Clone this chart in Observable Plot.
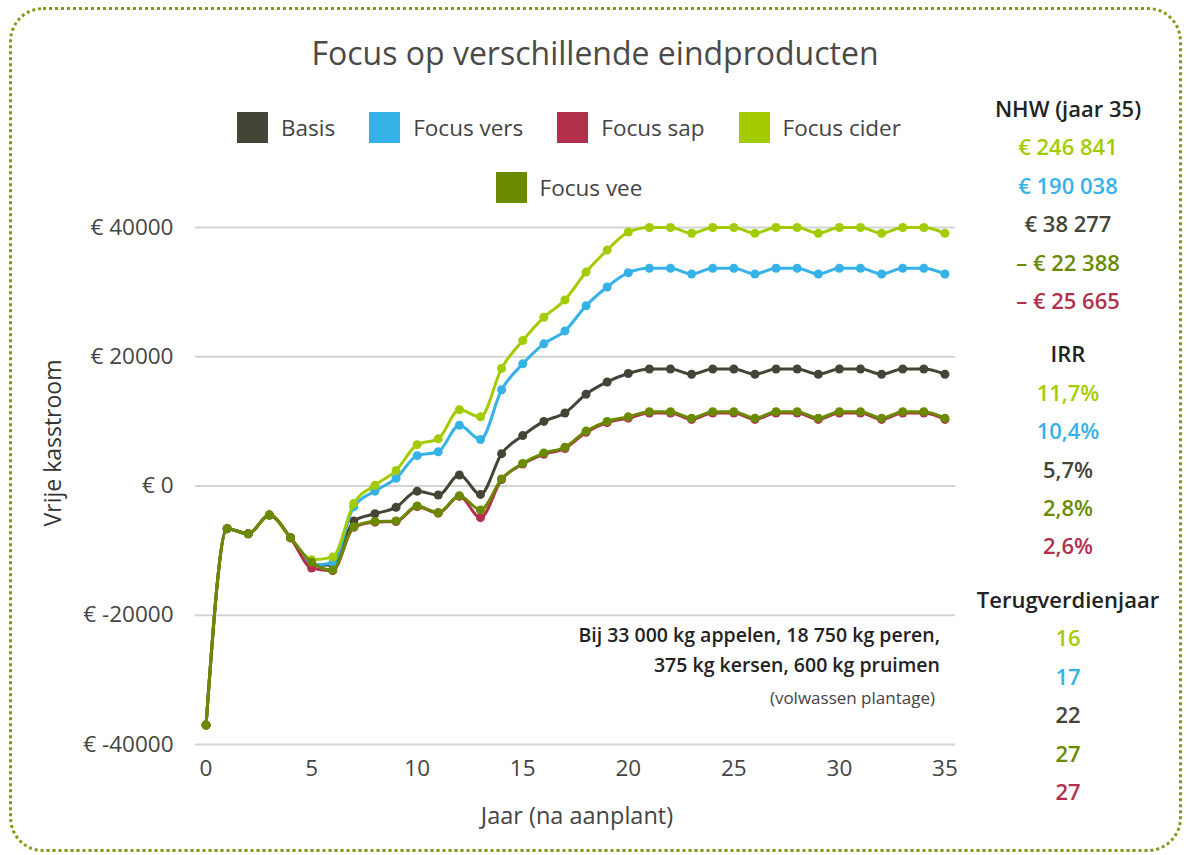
<!DOCTYPE html>
<html>
<head>
<meta charset="utf-8">
<script src="https://cdn.jsdelivr.net/npm/d3@7"></script>
<script src="https://cdn.jsdelivr.net/npm/@observablehq/plot@0.6"></script>
<style>
  html, body { margin: 0; padding: 0; background: #fff; }
  body { width: 1188px; height: 855px; position: relative; overflow: hidden; font-family: "Open Sans", sans-serif; color: #444; }
  #border { position: absolute; left: 9px; top: 7px; width: 1173px; height: 845px; box-sizing: border-box; border: 3px dotted #7d9b14; border-radius: 34px; }
  #title { position: absolute; left: 0; width: 1190px; top: 31px; text-align: center; font-size: 32px; color: #4a4a48; }
  .legend { position: absolute; left: 0; width: 1138px; display: flex; justify-content: center; gap: 34px; font-size: 22.5px; color: #444; }
  .legend .item { display: flex; align-items: center; gap: 13px; }
  .legend .sw { width: 31px; height: 31px; }
  #ylabel { position: absolute; left: 52px; top: 443px; transform: translate(-50%, -50%) rotate(-90deg); font-size: 23px; white-space: nowrap; color: #333; }
  #xlabel { position: absolute; left: 577px; top: 815px; transform: translate(-50%, -50%); font-size: 23.5px; white-space: nowrap; color: #444; }
  #note { position: absolute; right: 248px; top: 620px; text-align: right; }
  #note .b { font-size: 19.5px; font-weight: 600; color: #222; line-height: 30px; }
  #note .s { font-size: 17px; color: #444; line-height: 36px; margin-right: 5px; }
  #panel { position: absolute; left: 958px; width: 220px; top: 89px; text-align: center; font-weight: 600; font-size: 22px; }
  #panel div { line-height: 38.4px; }
  #panel .h { color: #222; }
  #panel .sec { margin-top: 15px; }
  #chart { position: absolute; left: 0; top: 0; }
</style>
</head>
<body>
<div id="border"></div>
<div id="title">Focus op verschillende eindproducten</div>
<div class="legend" id="leg1" style="top:112px"></div>
<div class="legend" id="leg2" style="top:172px"></div>
<div id="ylabel">Vrije kasstroom</div>
<div id="xlabel">Jaar (na aanplant)</div>
<div id="note">
  <div class="b">Bij 33 000 kg appelen, 18 750 kg peren,</div>
  <div class="b">375 kg kersen, 600 kg pruimen</div>
  <div class="s">(volwassen plantage)</div>
</div>
<div id="panel"></div>
<div id="chart"></div>
<script>
// ---- data ----
const years = [0,1,2,3,4,5,6,7,8,9,10,11,12,13,14,15,16,17,18,19,20,21,22,23,24,25,26,27,28,29,30,31,32,33,34,35];
const basis = [-37000,-6600,-7400,-4500,-8000,-12300,-12200,-5400,-4300,-3300,-800,-1400,1700,-1300,5000,7800,10000,11300,14200,16100,17400,18100,18100,17300,18100,18100,17300,18100,18100,17300,18100,18100,17300,18100,18100,17300];
const focusVers = [-37000,-6600,-7400,-4500,-8000,-12200,-11900,-3200,-800,1200,4700,5300,9400,7200,14900,18900,22000,24000,27900,30800,33000,33700,33700,32800,33700,33700,32800,33700,33700,32800,33700,33700,32800,33700,33700,32800];
const focusSap = [-37000,-6600,-7400,-4500,-8000,-12700,-13100,-6400,-5600,-5500,-3200,-4200,-1600,-4900,1000,3400,4900,5800,8300,9800,10500,11300,11300,10300,11300,11300,10300,11300,11300,10300,11300,11300,10300,11300,11300,10300];
const focusCider = [-37000,-6600,-7400,-4500,-8000,-11400,-11000,-2700,100,2400,6400,7300,11800,10700,18200,22500,26100,28800,33100,36500,39300,40000,40000,39100,40000,40000,39100,40000,40000,39100,40000,40000,39100,40000,40000,39100];
const focusVee = [-37000,-6600,-7400,-4500,-8000,-11800,-13000,-6300,-5500,-5400,-3100,-4100,-1500,-3700,1100,3500,5100,6000,8500,10000,10700,11500,11500,10500,11500,11500,10500,11500,11500,10500,11500,11500,10500,11500,11500,10500];

const seriesNames = ["Basis", "Focus vers", "Focus sap", "Focus cider", "Focus vee"];
const seriesColors = ["#444536", "#35b2e8", "#b3304d", "#a3cc00", "#6a8a00"];
const seriesValues = [basis, focusVers, focusSap, focusCider, focusVee];
const drawOrder = ["Basis", "Focus vers", "Focus cider", "Focus sap", "Focus vee"];

const yTicks = [-40000, -20000, 0, 20000, 40000];
const xTicks = [0, 5, 10, 15, 20, 25, 30, 35];

const nhwLabels = ["€ 246 841", "€ 190 038", "€ 38 277", "– € 22 388", "– € 25 665"];
const nhwSeries = ["Focus cider", "Focus vers", "Basis", "Focus vee", "Focus sap"];
const irrLabels = ["11,7%", "10,4%", "5,7%", "2,8%", "2,6%"];
const paybackLabels = ["16", "17", "22", "27", "27"];

// ---- legend ----
const colorOf = name => seriesColors[seriesNames.indexOf(name)];
function addLegend(el, names) {
  for (const n of names) {
    const it = document.createElement("div");
    it.className = "item";
    it.innerHTML = `<div class="sw" style="background:${colorOf(n)}"></div><span>${n}</span>`;
    el.appendChild(it);
  }
}
addLegend(document.getElementById("leg1"), seriesNames.slice(0, 4));
addLegend(document.getElementById("leg2"), seriesNames.slice(4));

// ---- right panel ----
const panel = document.getElementById("panel");
function section(header, labels, first) {
  const h = document.createElement("div");
  h.className = "h" + (first ? "" : " sec");
  h.textContent = header;
  panel.appendChild(h);
  labels.forEach((t, i) => {
    const d = document.createElement("div");
    d.style.color = colorOf(nhwSeries[i]);
    d.textContent = t;
    panel.appendChild(d);
  });
}
section("NHW (jaar 35)", nhwLabels, true);
section("IRR", irrLabels, false);
section("Terugverdienjaar", paybackLabels, false);

// ---- chart ----
const rows = [];
seriesNames.forEach((name, si) => {
  years.forEach((yr, i) => rows.push({series: name, year: yr, value: seriesValues[si][i]}));
});

const marks = [
  Plot.gridY(yTicks, {stroke: "#d4d4d4", strokeWidth: 2, strokeOpacity: 1}),
  Plot.axisY({ticks: yTicks, tickSize: 0, tickPadding: 22, tickFormat: d => "€ " + d, fontSize: 22.5, label: null}),
  Plot.axisX({ticks: xTicks, tickSize: 0, tickPadding: 16, fontSize: 22.5, label: null})
];
for (const name of drawOrder) {
  const data = rows.filter(r => r.series === name);
  marks.push(Plot.line(data, {x: "year", y: "value", stroke: colorOf(name), strokeWidth: 3, curve: "monotone-x"}));
  marks.push(Plot.dot(data, {x: "year", y: "value", fill: colorOf(name), r: 4.5}));
}

const chart = Plot.plot({
  width: 1188,
  height: 855,
  marginLeft: 195,
  marginRight: 233,
  marginTop: 227,
  marginBottom: 111,
  style: {fontFamily: "Open Sans, sans-serif", color: "#444", background: "transparent", overflow: "visible"},
  x: {domain: [-0.5, 35.5]},
  y: {domain: [-40000, 40000]},
  marks
});
document.getElementById("chart").appendChild(chart);
</script>
</body>
</html>
